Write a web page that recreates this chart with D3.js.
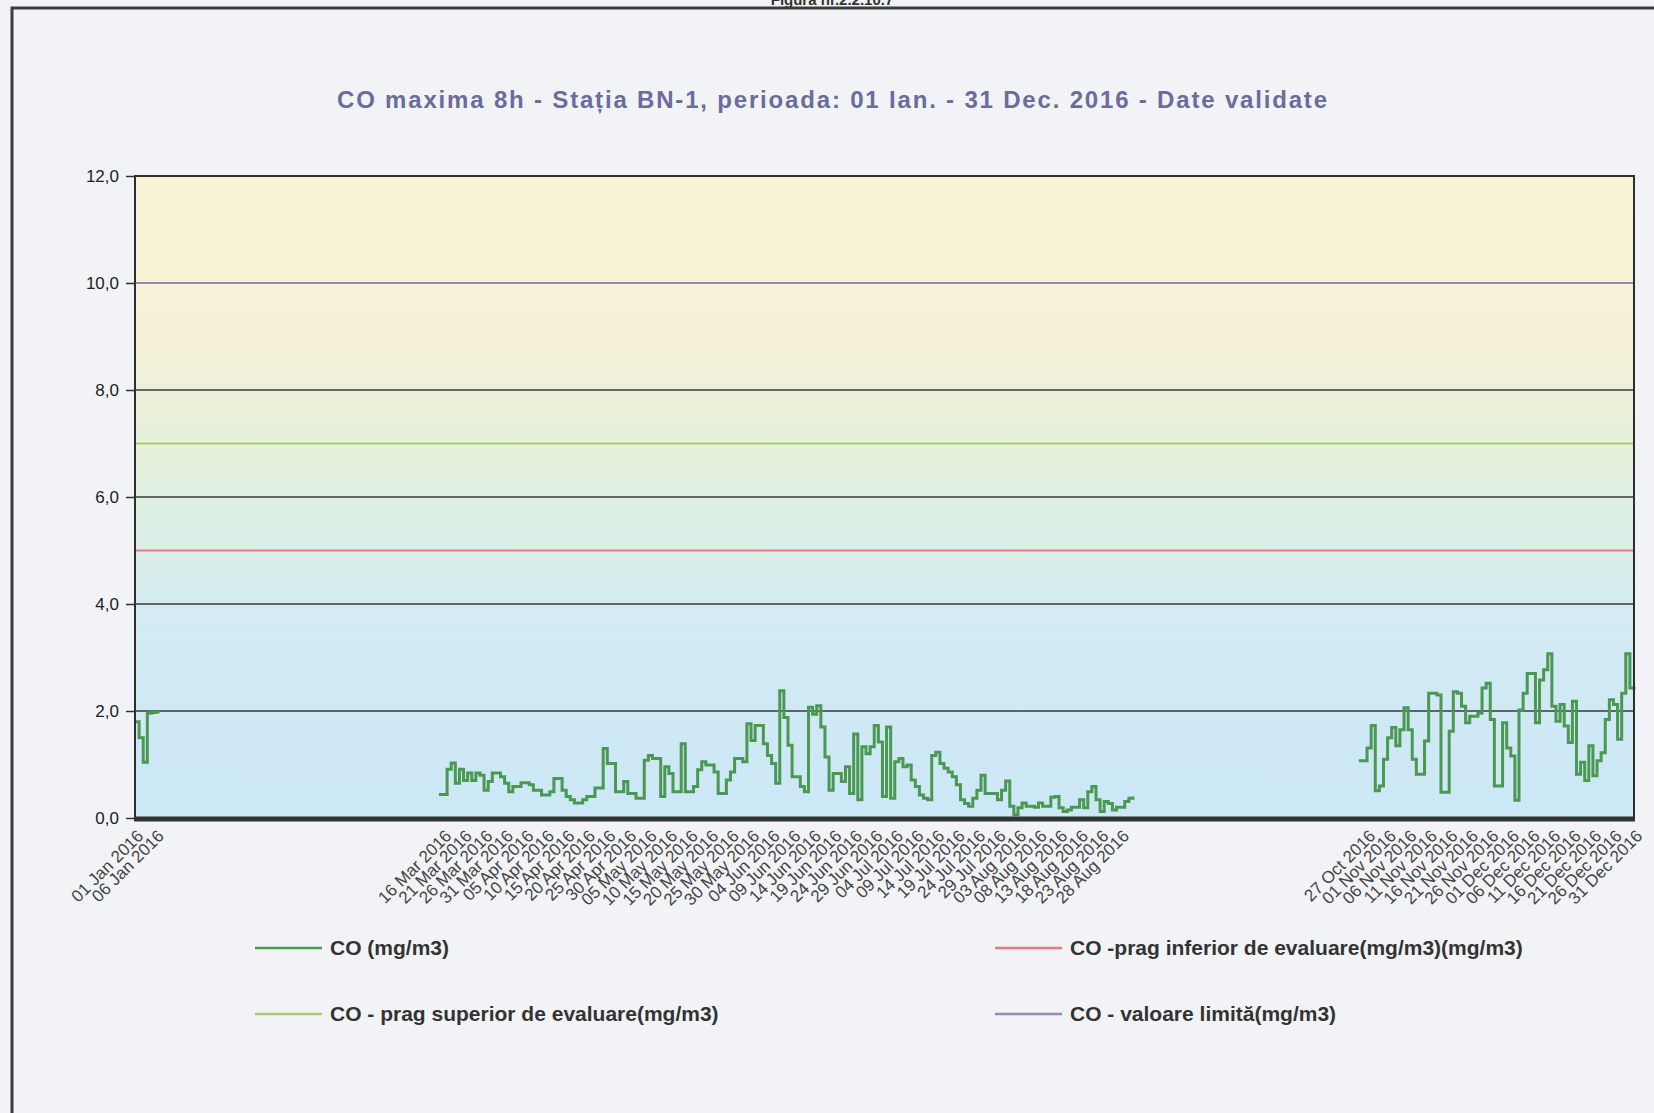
<!DOCTYPE html>
<html>
<head>
<meta charset="utf-8">
<script src="https://cdn.jsdelivr.net/npm/d3@7"></script>
<style>
  body { margin: 0; background: #f1f3f6; }
  svg { display: block; }
</style>
</head>
<body>
<div id="chart"></div>
<script>
// chart texts
var chartTitle = "CO maxima 8h - Stația BN-1, perioada: 01 Ian. - 31 Dec. 2016 - Date validate";
var figureCaption = "Figura nr.2.2.10.7";

// y axis ticks (mg/m3)
var yTicks = [0, 2, 4, 6, 8, 10, 12];

// x tick labels (only printed where data exists)
var xTickLabels = [
  "01 Jan 2016", "06 Jan 2016",
  "16 Mar 2016", "21 Mar 2016", "26 Mar 2016", "31 Mar 2016", "05 Apr 2016", "10 Apr 2016",
  "15 Apr 2016", "20 Apr 2016", "25 Apr 2016", "30 Apr 2016", "05 May 2016", "10 May 2016",
  "15 May 2016", "20 May 2016", "25 May 2016", "30 May 2016", "04 Jun 2016", "09 Jun 2016",
  "14 Jun 2016", "19 Jun 2016", "24 Jun 2016", "29 Jun 2016", "04 Jul 2016", "09 Jul 2016",
  "14 Jul 2016", "19 Jul 2016", "24 Jul 2016", "29 Jul 2016", "03 Aug 2016", "08 Aug 2016",
  "13 Aug 2016", "18 Aug 2016", "23 Aug 2016", "28 Aug 2016",
  "27 Oct 2016", "01 Nov 2016", "06 Nov 2016", "11 Nov 2016", "16 Nov 2016", "21 Nov 2016",
  "26 Nov 2016", "01 Dec 2016", "06 Dec 2016", "11 Dec 2016", "16 Dec 2016", "21 Dec 2016",
  "26 Dec 2016", "31 Dec 2016"
];

// CO daily max 8h values, one per day, in three runs of valid data
var run1Start = "2016-01-01";
var run1Values = [1.80, 1.50, 1.04, 1.96, 1.97, 1.98, 1.98];

var run2Start = "2016-03-15";
var run2Values = [
  0.44, 0.44, 0.91, 1.03, 0.65, 0.91, 0.70, 0.84, 0.70, 0.84,
  0.80, 0.52, 0.68, 0.84, 0.84, 0.77, 0.65, 0.49, 0.59, 0.59,
  0.66, 0.66, 0.62, 0.52, 0.52, 0.43, 0.43, 0.49, 0.74, 0.74,
  0.52, 0.40, 0.34, 0.28, 0.28, 0.34, 0.40, 0.40, 0.56, 0.56,
  1.30, 1.02, 1.02, 0.49, 0.49, 0.68, 0.46, 0.46, 0.37, 0.37,
  1.08, 1.17, 1.11, 1.11, 0.40, 0.96, 0.83, 0.49, 0.49, 1.39,
  0.49, 0.49, 0.59, 0.90, 1.05, 0.99, 0.99, 0.86, 0.46, 0.46,
  0.71, 0.86, 1.11, 1.11, 1.05, 1.76, 1.45, 1.73, 1.73, 1.39,
  1.17, 1.02, 0.65, 2.38, 1.88, 1.36, 0.77, 0.77, 0.59, 0.49,
  2.07, 1.94, 2.10, 1.70, 1.14, 0.52, 0.83, 0.83, 0.68, 0.96,
  0.46, 1.57, 0.34, 1.33, 1.20, 1.33, 1.73, 1.42, 0.40, 1.70,
  0.37, 1.05, 1.11, 0.96, 0.99, 0.71, 0.59, 0.43, 0.37, 0.34,
  1.17, 1.23, 1.02, 0.93, 0.86, 0.77, 0.62, 0.34, 0.27, 0.22,
  0.37, 0.52, 0.80, 0.46, 0.46, 0.46, 0.34, 0.52, 0.69, 0.22,
  0.06, 0.19, 0.28, 0.22, 0.22, 0.20, 0.28, 0.22, 0.22, 0.39,
  0.40, 0.19, 0.12, 0.15, 0.20, 0.20, 0.34, 0.19, 0.49, 0.59,
  0.34, 0.12, 0.31, 0.27, 0.15, 0.20, 0.20, 0.31, 0.37, 0.40
];

var run3Start = "2016-10-25";
var run3Values = [
  1.07, 1.07, 1.31, 1.73, 0.51, 0.60, 1.10, 1.50, 1.69, 1.35,
  1.65, 2.06, 1.65, 1.10, 0.82, 0.82, 1.44, 2.33, 2.33, 2.30,
  0.48, 0.48, 1.62, 2.36, 2.33, 2.09, 1.78, 1.90, 1.90, 1.96,
  2.43, 2.52, 1.84, 0.60, 0.60, 1.78, 1.31, 1.16, 0.33, 2.02,
  2.33, 2.70, 2.70, 1.78, 2.58, 2.77, 3.07, 2.09, 1.81, 2.12,
  1.72, 1.41, 2.18, 0.82, 1.04, 0.70, 1.35, 0.79, 1.07, 1.22,
  1.84, 2.21, 2.12, 1.47, 2.33, 3.07, 2.43, 2.40
];

// reference thresholds (mg/m3)
var thresholdNames = ["CO -prag inferior de evaluare(mg/m3)(mg/m3)", "CO - prag superior de evaluare(mg/m3)", "CO - valoare limită(mg/m3)"];
var thresholdValues = [5, 7, 10];
var seriesName = "CO (mg/m3)";

var width = 1654, height = 1113;
var plotLeft = 135, plotRight = 1634, plotTop = 176, plotBottom = 818;

var lineColor = "#4a9851";
var thresholdColors = ["#e87a7c", "#a9cd70", "#9c88b0"];

var parseDay = d3.timeParse("%Y-%m-%d");
var parseLabel = d3.timeParse("%d %b %Y");

function makeRun(start, values) {
  var t0 = parseDay(start);
  return values.map(function(v, i) {
    return { date: d3.timeDay.offset(t0, i), value: v };
  });
}
var runs = [makeRun(run1Start, run1Values), makeRun(run2Start, run2Values), makeRun(run3Start, run3Values)];

var x = d3.scaleTime()
  .domain([parseDay("2016-01-01"), parseDay("2016-12-31")])
  .range([plotLeft, plotRight]);
var y = d3.scaleLinear().domain([0, 12]).range([plotBottom, plotTop]);

var svg = d3.select("#chart").append("svg")
  .attr("width", width)
  .attr("height", height)
  .style("font-family", "'Liberation Sans', Arial, sans-serif");

svg.append("rect").attr("width", width).attr("height", height).attr("fill", "#f1f3f6");

// page frame
svg.append("text")
  .attr("x", 832).attr("y", 5)
  .attr("text-anchor", "middle")
  .attr("font-size", 15).attr("font-weight", "bold").attr("fill", "#333")
  .text(figureCaption);
svg.append("path")
  .attr("d", "M12," + height + "V8H" + width)
  .attr("fill", "none").attr("stroke", "#3d3d3d").attr("stroke-width", 3);

var grad = svg.append("defs").append("linearGradient")
  .attr("id", "bg")
  .attr("gradientUnits", "userSpaceOnUse")
  .attr("x1", 0).attr("x2", 0).attr("y1", plotTop).attr("y2", plotBottom);
[[0, "#f8f3d6"], [0.25, "#f4f1d6"], [0.45, "#e4f0dc"], [0.6, "#d8eee9"], [0.72, "#d1eaf4"], [1, "#cce7f6"]]
  .forEach(function(s) {
    grad.append("stop").attr("offset", s[0]).attr("stop-color", s[1]);
  });

svg.append("rect")
  .attr("x", plotLeft).attr("y", plotTop)
  .attr("width", plotRight - plotLeft).attr("height", plotBottom - plotTop)
  .attr("fill", "url(#bg)");

// dark gridlines
svg.append("g").selectAll("line")
  .data(yTicks.filter(function(d) { return d > 0 && d < 12; }))
  .enter().append("line")
  .attr("x1", plotLeft).attr("x2", plotRight)
  .attr("y1", function(d) { return y(d); })
  .attr("y2", function(d) { return y(d); })
  .attr("stroke", "#3a3a3a").attr("stroke-width", 1.6);

// threshold lines
svg.append("g").selectAll("line")
  .data(thresholdValues)
  .enter().append("line")
  .attr("x1", plotLeft).attr("x2", plotRight)
  .attr("y1", function(d) { return y(d); })
  .attr("y2", function(d) { return y(d); })
  .attr("stroke", function(d, i) { return thresholdColors[i]; })
  .attr("stroke-width", 2.2);

// CO series
var line = d3.line()
  .x(function(d) { return x(d.date); })
  .y(function(d) { return y(d.value); })
  .curve(d3.curveStepAfter);

svg.append("g").selectAll("path")
  .data(runs)
  .enter().append("path")
  .attr("d", line)
  .attr("fill", "none")
  .attr("stroke", lineColor)
  .attr("stroke-width", 3)
  .attr("stroke-linejoin", "miter");

// frame of plot
svg.append("path")
  .attr("d", "M" + plotLeft + "," + plotBottom + "V" + plotTop + "H" + plotRight + "V" + plotBottom)
  .attr("fill", "none").attr("stroke", "#2e2e2e").attr("stroke-width", 2);
svg.append("line")
  .attr("x1", plotLeft - 1).attr("x2", plotRight + 1)
  .attr("y1", plotBottom + 1).attr("y2", plotBottom + 1)
  .attr("stroke", "#333").attr("stroke-width", 5);

// y axis
var yAxis = svg.append("g")
  .attr("transform", "translate(" + plotLeft + ",0)")
  .call(d3.axisLeft(y)
    .tickValues(yTicks)
    .tickSize(9)
    .tickPadding(7)
    .tickFormat(function(d) { return d3.format(".1f")(d).replace(".", ","); }));
yAxis.select(".domain").remove();
yAxis.selectAll(".tick line").attr("stroke", "#333").attr("stroke-width", 1.5);
yAxis.selectAll("text").attr("font-size", 17).attr("fill", "#222").attr("font-family", "'Liberation Sans', Arial, sans-serif");

// x axis
var xAxis = svg.append("g")
  .attr("transform", "translate(0," + plotBottom + ")")
  .call(d3.axisBottom(x)
    .tickValues(xTickLabels.map(parseLabel))
    .tickSize(0)
    .tickFormat(d3.timeFormat("%d %b %Y")));
xAxis.select(".domain").remove();
xAxis.selectAll("text")
  .attr("font-size", 17)
  .attr("fill", "#444")
  .attr("font-family", "'Liberation Sans', Arial, sans-serif")
  .attr("text-anchor", "end")
  .attr("dy", null)
  .attr("y", 0)
  .attr("transform", "translate(9,19) rotate(-45)");

// title
svg.append("text")
  .attr("x", 832).attr("y", 108)
  .attr("text-anchor", "middle")
  .attr("font-size", 24)
  .attr("font-weight", "bold")
  .attr("fill", "#6b6b9d")
  .attr("textLength", 990)
  .attr("lengthAdjust", "spacing")
  .text(chartTitle);

// legend
var legendItems = [
  { name: seriesName, color: lineColor },
  { name: thresholdNames[0], color: thresholdColors[0] },
  { name: thresholdNames[1], color: thresholdColors[1] },
  { name: thresholdNames[2], color: thresholdColors[2] }
];
var legend = svg.append("g").selectAll("g")
  .data(legendItems)
  .enter().append("g")
  .attr("transform", function(d, i) {
    return "translate(" + [i % 2 ? 995 : 255, i < 2 ? 948 : 1014] + ")";
  });
legend.append("line")
  .attr("x1", 0).attr("x2", 67)
  .attr("stroke", function(d) { return d.color; })
  .attr("stroke-width", 2.5);
legend.append("text")
  .attr("x", 75).attr("y", 7)
  .attr("font-family", "'Liberation Sans Narrow', 'Liberation Sans', sans-serif")
  .attr("font-weight", "bold")
  .attr("font-size", 21)
  .attr("fill", "#333")
  .text(function(d) { return d.name; });
</script>
</body>
</html>
